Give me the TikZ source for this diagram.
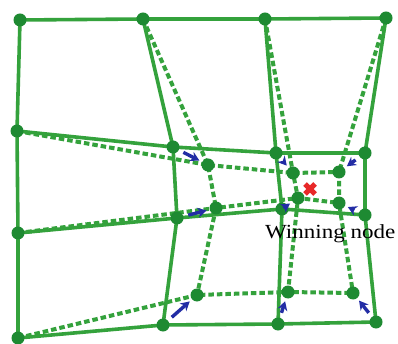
\documentclass[tikz,border=0pt]{standalone}
\usepackage{fontspec}
\setmainfont{Liberation Serif}
\usetikzlibrary{arrows.meta}
\definecolor{gridgreen}{RGB}{52,162,60}
\definecolor{dotgreen}{RGB}{30,138,50}
\definecolor{pullblue}{RGB}{35,45,165}
\definecolor{inred}{RGB}{232,40,40}
\tikzset{
  dot/.style={circle,fill=dotgreen,inner sep=0pt,minimum size=13pt},
  oldlink/.style={gridgreen,line width=3.6pt},
  newlink/.style={gridgreen,line width=4pt,dash pattern=on 5.5pt off 3pt},
  pull/.style={pullblue,line width=3.4pt,-{Stealth[length=9pt,width=10pt]},shorten >=3pt,shorten <=5pt},
  crossbar/.style={inred,line width=5pt},
}
\begin{document}
\begin{tikzpicture}[x=1pt,y=-1pt]
\useasboundingbox (0,0) rectangle (398,344);
\fill[white] (0,0) rectangle (398,344);

% lattice before the update
\path (20,20) coordinate (p00) (143,19) coordinate (p01) (265,19) coordinate (p02) (386,18) coordinate (p03)
      (17,131) coordinate (p10) (173,147) coordinate (p11) (276,153) coordinate (p12) (365,153) coordinate (p13)
      (18,233) coordinate (p20) (177,218) coordinate (p21) (282,209) coordinate (p22) (365,215) coordinate (p23)
      (18,338) coordinate (p30) (163,325) coordinate (p31) (278,324) coordinate (p32) (376,322) coordinate (p33);
% moved units after the update
\path (208,165) coordinate (q11) (293,173) coordinate (q12) (339,172) coordinate (q13)
      (216,208) coordinate (q21) (298,198) coordinate (q22) (339,203) coordinate (q23)
      (197,295) coordinate (q31) (288,292) coordinate (q32) (353,293) coordinate (q33);

% solid grid
\draw[oldlink] (p00) -- (p01) -- (p02) -- (p03);
\draw[oldlink] (p10) -- (p11) -- (p12) -- (p13);
\draw[oldlink] (p20) -- (p21) -- (p22) -- (p23);
\draw[oldlink] (p30) -- (p31) -- (p32) -- (p33);
\draw[oldlink] (p00) -- (p10) -- (p20) -- (p30);
\draw[oldlink] (p01) -- (p11) -- (p21) -- (p31);
\draw[oldlink] (p02) -- (p12) -- (p22) -- (p32);
\draw[oldlink] (p03) -- (p13) -- (p23) -- (p33);

% dashed grid
\draw[newlink] (p10) -- (q11) -- (q12) -- (q13);
\draw[newlink] (p20) -- (q21) -- (q22) -- (q23);
\draw[newlink] (p30) -- (q31) -- (q32) -- (q33);
\draw[newlink] (p01) -- (q11) -- (q21) -- (q31);
\draw[newlink] (p02) -- (q12) -- (q22) -- (q32);
\draw[newlink] (p03) -- (q13) -- (q23) -- (q33);

% units
\foreach \c in {00,01,02,03,10,11,12,13,20,21,22,23,30,31,32,33}
  \node[dot] (u\c) at (p\c) {};
\foreach \c in {11,12,13,21,22,23,31,32,33}
  \node[dot] (v\c) at (q\c) {};

% update displacements
\foreach \c in {11,12,13,21,22,23,31,32,33}
  \draw[pull] (u\c) -- (v\c);

% input sample
\coordinate (x) at (310,189);
\draw[crossbar] ([shift={(-5,-5)}]x) -- ([shift={(5,5)}]x);
\draw[crossbar] ([shift={(-5,5)}]x) -- ([shift={(5,-5)}]x);

\node[anchor=base west,inner sep=0pt,font=\fontsize{20}{22}\selectfont] (lbl) at (265,238) {\scalebox{1.15}[1]{Winning node}};
\end{tikzpicture}
\end{document}
